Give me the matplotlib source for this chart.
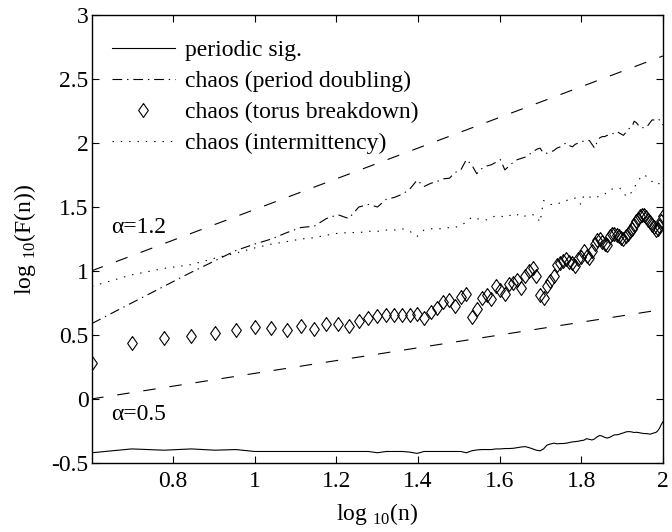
import numpy as np
import matplotlib
matplotlib.use('Agg')
import matplotlib.pyplot as plt
from matplotlib.ticker import FormatStrFormatter

plt.rcParams['font.family'] = ['Liberation Serif', 'DejaVu Serif']
plt.rcParams['mathtext.fontset'] = 'custom'
plt.rcParams['mathtext.rm'] = 'Liberation Serif'
plt.rcParams['axes.unicode_minus'] = False
plt.rcParams['lines.scale_dashes'] = False

# box sizes n = 4..100
n = np.arange(4, 101)

periodic = [
    -0.42, -0.39, -0.40, -0.39, -0.40, -0.395, -0.41, -0.41, -0.41, -0.41,
    -0.41, -0.41, -0.41, -0.41, -0.41, -0.41, -0.42, -0.41, -0.41, -0.41,
    -0.415, -0.425, -0.41, -0.41, -0.41, -0.41, -0.41, -0.41, -0.41, -0.42,
    -0.405, -0.398, -0.395, -0.395, -0.395, -0.39, -0.39, -0.387, -0.387, -0.385,
    -0.38, -0.375, -0.372, -0.38, -0.39, -0.40, -0.405, -0.39, -0.36, -0.352,
    -0.345, -0.35, -0.348, -0.348, -0.345, -0.34, -0.335, -0.333, -0.33, -0.325,
    -0.322, -0.31, -0.315, -0.32, -0.312, -0.295, -0.285, -0.29, -0.30, -0.305,
    -0.30, -0.29, -0.28, -0.28, -0.277, -0.27, -0.265, -0.258, -0.255, -0.255,
    -0.258, -0.262, -0.26, -0.262, -0.265, -0.268, -0.27, -0.27, -0.272, -0.275,
    -0.27, -0.265, -0.262, -0.25, -0.23, -0.20, -0.177]

period_doubling = [
    0.59, 0.75, 0.88, 0.99, 1.08, 1.16, 1.21, 1.25, 1.30, 1.34,
    1.35, 1.41, 1.44, 1.41, 1.50, 1.52, 1.50, 1.56, 1.575, 1.60,
    1.64, 1.71, 1.66, 1.685, 1.70, 1.72, 1.725, 1.77, 1.79, 1.87,
    1.83, 1.76, 1.80, 1.82, 1.83, 1.85, 1.87, 1.79, 1.82, 1.85,
    1.87, 1.88, 1.89, 1.91, 1.93, 1.95, 1.96, 1.92, 1.92, 1.93,
    1.94, 1.96, 1.97, 1.99, 2.00, 1.98, 1.97, 1.99, 2.00, 2.01,
    2.015, 2.02, 2.02, 1.99, 1.96, 2.01, 2.04, 2.05, 2.05, 2.06,
    2.06, 2.07, 2.08, 2.09, 2.08, 2.07, 2.06, 2.08, 2.10, 2.12,
    2.13, 2.17, 2.16, 2.14, 2.12, 2.12, 2.12, 2.12, 2.14, 2.16,
    2.18, 2.18, 2.19, 2.19, 2.18, 2.16, 2.14]

torus = [
    0.284, 0.44, 0.474, 0.492, 0.518, 0.539, 0.56, 0.557, 0.539, 0.57,
    0.549, 0.586, 0.586, 0.57, 0.609, 0.635, 0.65, 0.66, 0.66, 0.66,
    0.66, 0.665, 0.635, 0.68, 0.71, 0.76, 0.77, 0.73, 0.80, 0.82,
    0.64, 0.70, 0.79, 0.81, 0.78, 0.885, 0.85, 0.82, 0.90, 0.91,
    0.93, 0.87, 0.96, 1.00, 1.02, 0.96, 0.81, 0.79, 0.885, 0.92,
    0.96, 1.05, 1.06, 1.08, 1.09, 1.07, 1.06, 1.04, 1.09, 1.11,
    1.16, 1.12, 1.10, 1.16, 1.21, 1.24, 1.25, 1.23, 1.21, 1.20,
    1.27, 1.29, 1.29, 1.28, 1.27, 1.26, 1.25, 1.27, 1.29, 1.31,
    1.33, 1.36, 1.39, 1.41, 1.43, 1.44, 1.44, 1.42, 1.40, 1.38,
    1.36, 1.34, 1.32, 1.33, 1.35, 1.39, 1.43]

intermittency = [
    0.88, 0.97, 1.02, 1.05, 1.10, 1.14, 1.18, 1.21, 1.23, 1.25,
    1.26, 1.28, 1.295, 1.30, 1.30, 1.31, 1.31, 1.32, 1.32, 1.33,
    1.31, 1.27, 1.32, 1.33, 1.33, 1.33, 1.34, 1.34, 1.36, 1.38,
    1.42, 1.41, 1.40, 1.40, 1.42, 1.43, 1.43, 1.42, 1.43, 1.45,
    1.44, 1.42, 1.43, 1.43, 1.44, 1.43, 1.38, 1.55, 1.54, 1.52,
    1.52, 1.53, 1.53, 1.54, 1.55, 1.56, 1.56, 1.57, 1.54, 1.52,
    1.59, 1.58, 1.58, 1.57, 1.58, 1.58, 1.58, 1.59, 1.60, 1.62,
    1.63, 1.64, 1.64, 1.645, 1.65, 1.64, 1.61, 1.59, 1.58, 1.60,
    1.62, 1.65, 1.68, 1.70, 1.73, 1.75, 1.75, 1.74, 1.72, 1.71,
    1.70, 1.69, 1.70, 1.69, 1.68, 1.67, 1.66]

# reference slopes
alphas = [1.2, 0.5]
intercepts = [1.0, 0.0]
fit_x = [0.6, 2.0]

x = np.log10(n)
fs = 17

fig = plt.figure(figsize=(6.72, 5.32), dpi=100)
ax = fig.add_axes([0.1369, 0.1297, 0.8497, 0.8421])

ax.plot(x, periodic, '-', color='k', lw=0.8, label='periodic sig.')
ax.plot(x, period_doubling, color='k', lw=0.8, dashes=(7, 3.5, 1, 3.5),
        label='chaos (period doubling)')
diamond = [(0, 1), (0.7, 0), (0, -1), (-0.7, 0), (0, 1)]
ax.plot(x, torus, ls='none', marker=diamond, ms=10, mfc='none', mec='k',
        mew=0.8, label='chaos (torus breakdown)')
ax.plot(x, intermittency, color='k', lw=0.8, dashes=(1, 5),
        label='chaos (intermittency)')

for a, b in zip(alphas, intercepts):
    fy = [b + a * (xx - fit_x[0]) for xx in fit_x]
    ax.plot(fit_x, fy, color='k', lw=0.8, dashes=(9, 10))

ax.text(0.648, 1.336, 'α=1.2', fontsize=fs, va='center', ha='left')
ax.text(0.648, -0.125, 'α=0.5', fontsize=fs, va='center', ha='left')

ax.set_xlim(np.log10(4), 2)
ax.set_ylim(-0.5, 3)
ax.set_xticks([0.8, 1, 1.2, 1.4, 1.6, 1.8, 2])
ax.set_yticks([-0.5, 0, 0.5, 1, 1.5, 2, 2.5, 3])
ax.xaxis.set_major_formatter(FormatStrFormatter('%g'))
ax.yaxis.set_major_formatter(FormatStrFormatter('%g'))
ax.tick_params(direction='in', length=5, width=0.8, labelsize=fs,
               top=True, right=True)
ax.tick_params(axis='x', pad=6)
ax.tick_params(axis='y', pad=2.5)
for s in ax.spines.values():
    s.set_linewidth(1.0)

ax.set_xlabel(r'log $_{\mathrm{10}}$(n)', fontsize=fs, labelpad=6)
ax.set_ylabel(r'log $_{\mathrm{10}}$(F(n))', fontsize=fs, labelpad=10)

ax.legend(loc='upper left', bbox_to_anchor=(0.035, 0.945), frameon=False,
          fontsize=fs, handlelength=2.66, handletextpad=0.43,
          labelspacing=0.4, borderaxespad=0, borderpad=0)

fig.savefig('out.png', dpi=100)
